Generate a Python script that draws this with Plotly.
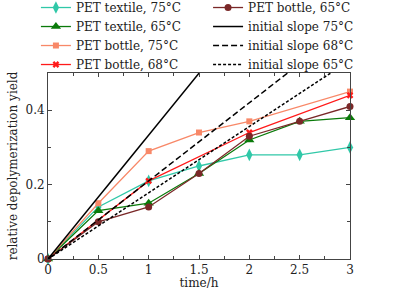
import plotly.graph_objects as go

# ---- data ----
t_textile75 = [0, 0.5, 1, 1.5, 2, 2.5, 3]
y_textile75 = [0, 0.14, 0.21, 0.25, 0.28, 0.28, 0.30]

t_textile65 = [0, 0.5, 1, 1.5, 2, 2.5, 3]
y_textile65 = [0, 0.13, 0.15, 0.23, 0.32, 0.37, 0.38]

t_bottle75 = [0, 0.5, 1, 1.5, 2, 3]
y_bottle75 = [0, 0.15, 0.29, 0.34, 0.37, 0.45]

t_bottle68 = [0, 1, 2, 3]
y_bottle68 = [0, 0.21, 0.34, 0.44]

t_bottle65 = [0, 0.5, 1, 1.5, 2, 2.5, 3]
y_bottle65 = [0, 0.10, 0.14, 0.23, 0.33, 0.37, 0.41]

slope_t = [0, 3]
slope75 = 0.333
slope68 = 0.21
slope65 = 0.178

x_ticks = [0, 0.5, 1, 1.5, 2, 2.5, 3]
x_ticklabels = ["0", "0.5", "1", "1.5", "2", "2.5", "3"]
y_ticks = [0, 0.2, 0.4]
y_ticklabels = ["0", "0.2", "0.4"]

FONT = "DejaVu Serif"
FS = 12
fig = go.Figure()

def series(t, y, name, color, symbol, size, legend="legend"):
    fig.add_trace(go.Scatter(
        x=t, y=y, name=name, mode="lines+markers",
        line=dict(color=color, width=1.3),
        marker=dict(symbol=symbol, size=size, color=color,
                    line=dict(width=0, color=color)),
        legend=legend, cliponaxis=False,
    ))

series(t_textile75, y_textile75, "PET textile, 75°C", "#30c8a8", "diamond-tall", 9)
series(t_textile65, y_textile65, "PET textile, 65°C", "#0a7a0a", "triangle-up", 9)
series(t_bottle75, y_bottle75, "PET bottle, 75°C", "#f88868", "square", 6)
series(t_bottle68, y_bottle68, "PET bottle, 68°C", "#ff1a1a", "x", 6)
series(t_bottle65, y_bottle65, "PET bottle, 65°C", "#7a2828", "circle", 7, "legend2")

for s, name, dash in [(slope75, "initial slope 75°C", "solid"),
                      (slope68, "initial slope 68°C", "6px,3px"),
                      (slope65, "initial slope 65°C", "3px,2px")]:
    fig.add_trace(go.Scatter(
        x=slope_t, y=[t * s for t in slope_t], name=name, mode="lines",
        line=dict(color="black", width=1.5, dash=dash), legend="legend2",
    ))

axis_common = dict(
    showline=True, linecolor="#444", linewidth=1, mirror="ticks",
    ticks="inside", ticklen=4, tickcolor="#444", tickwidth=1,
    showgrid=False, zeroline=False,
    tickfont=dict(family=FONT, size=FS, color="#222"),
)

fig.update_xaxes(
    range=[0, 3], tickvals=x_ticks, ticktext=x_ticklabels,
    minor=dict(dtick=0.25, ticks="inside", ticklen=3, tickcolor="#444", showgrid=False),
    title=dict(text="time/h", font=dict(family=FONT, size=FS, color="#222"), standoff=1),
    **axis_common,
)
fig.update_yaxes(
    range=[0, 0.5], tickvals=y_ticks, ticktext=y_ticklabels,
    minor=dict(dtick=0.1, ticks="inside", ticklen=3, tickcolor="#444", showgrid=False),
    title=dict(text="relative depolymerization yield", font=dict(family=FONT, size=FS, color="#222"), standoff=5),
    **axis_common,
)

leg_common = dict(
    bgcolor="rgba(0,0,0,0)", borderwidth=0,
    font=dict(family=FONT, size=FS, color="#222"),
    yanchor="top", xanchor="left", tracegroupgap=0,
)
fig.update_layout(
    width=393, height=290,
    margin=dict(l=48, r=43, t=73, b=31, autoexpand=False),
    paper_bgcolor="white", plot_bgcolor="white",
    showlegend=True,
    legend=dict(x=-0.04, y=1.43, **leg_common),
    legend2=dict(x=0.53, y=1.43, **leg_common),
)

fig.write_html("out.html", config={"displayModeBar": False},
               post_script="document.body.style.margin='0';")
